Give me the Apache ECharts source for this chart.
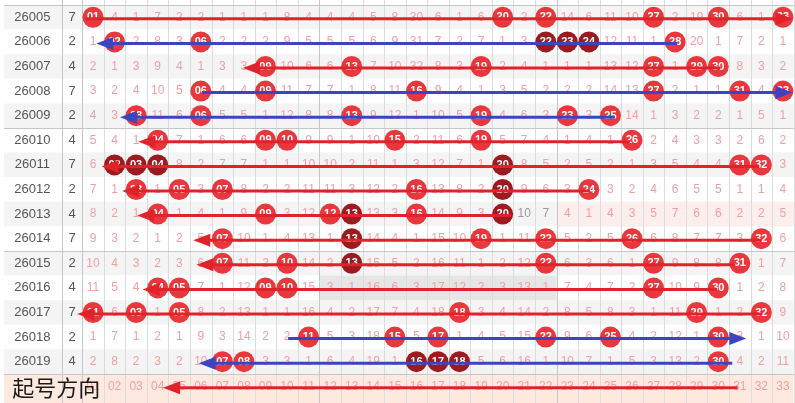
<!DOCTYPE html>
<html><head><meta charset="utf-8">
<script src="https://cdn.jsdelivr.net/npm/echarts@6/dist/echarts.min.js"></script>
<style>html,body{margin:0;padding:0;background:#fff}#c{width:795px;height:403px}</style>
</head><body><div id="c"></div>
<script>
// ---------------- data ----------------
const periods = ['26005','26006','26007','26008','26009','26010','26011','26012','26013','26014','26015','26016','26017','26018','26019'];
const sideValues = [7,2,4,7,2,4,7,2,4,7,2,4,7,2,4];
const numberLabels = ['01','02','03','04','05','06','07','08','09','10','11','12','13','14','15','16','17','18','19','20','21','22','23','24','25','26','27','28','29','30','31','32','33'];
const footerTitle = '起号方向';

// drawn numbers per period
const drawn = [
  [1,20,22,27,30,33],
  [2,6,22,23,24,28],
  [9,13,19,27,29,30],
  [6,9,16,27,31,33],
  [3,6,13,19,23,25],
  [4,9,10,15,19,26],
  [2,3,4,20,31,32],
  [3,5,7,16,20,24],
  [4,9,12,13,16,20],
  [7,13,19,22,26,32],
  [7,10,13,22,27,31],
  [4,5,9,10,27,30],
  [1,3,5,18,29,32],
  [11,15,17,22,25,30],
  [7,8,16,17,18,30]
];
// drawn numbers shown in dark red
const darkDrawn = [
  [],[22,23,24],[],[],[],[],[2,3,4,20],[20],[13,20],[13],[13],[],[],[],[16,17,18]
];
// previous period 26004 (only the lower edge of its balls is visible)
const prevDrawn = [3,18,32];
const prevDark = [7,8,9];

// omission counts (null = drawn)
const N = null;
const omission = [
  [N,4,1,7,2,2,1,1,1,8,4,4,4,5,8,30,6,1,6,N,2,N,14,6,11,10,N,2,19,N,6,1,N],
  [1,N,2,8,3,N,2,2,2,9,5,5,5,6,9,31,7,2,7,1,3,N,N,N,12,11,1,N,20,1,7,2,1],
  [2,1,3,9,4,1,3,3,N,10,6,6,N,7,10,32,8,3,N,2,4,1,1,1,13,12,N,1,N,N,8,3,2],
  [3,2,4,10,5,N,4,4,N,11,7,7,1,8,11,N,9,4,1,3,5,2,2,2,14,13,N,2,1,1,N,4,N],
  [4,3,N,11,6,N,5,5,1,12,8,8,N,9,12,1,10,5,N,4,6,3,N,3,N,14,1,3,2,2,1,5,1],
  [5,4,1,N,7,1,6,6,N,N,9,9,1,10,N,2,11,6,N,5,7,4,1,4,1,N,2,4,3,3,2,6,2],
  [6,N,N,N,8,2,7,7,1,1,10,10,2,11,1,3,12,7,1,N,8,5,2,5,2,1,3,5,4,4,N,N,3],
  [7,1,N,1,N,3,N,8,2,2,11,11,3,12,2,N,13,8,2,N,9,6,3,N,3,2,4,6,5,5,1,1,4],
  [8,2,1,N,1,4,1,9,N,3,12,N,N,13,3,N,14,9,3,N,10,7,4,1,4,3,5,7,6,6,2,2,5],
  [9,3,2,1,2,5,N,10,1,4,13,1,N,14,4,1,15,10,N,1,11,N,5,2,5,N,6,8,7,7,3,N,6],
  [10,4,3,2,3,6,N,11,2,N,14,2,N,15,5,2,16,11,1,2,12,N,6,3,6,1,N,9,8,8,N,1,7],
  [11,5,4,N,N,7,1,12,N,N,15,3,1,16,6,3,17,12,2,3,13,1,7,4,7,2,N,10,9,N,1,2,8],
  [N,6,N,1,N,8,2,13,1,1,16,4,2,17,7,4,18,N,3,4,14,2,8,5,8,3,1,11,N,1,2,N,9],
  [1,7,1,2,1,9,3,14,2,2,N,5,3,18,N,5,N,1,4,5,15,N,9,6,N,4,2,12,1,N,3,1,10],
  [2,8,2,3,2,10,N,N,3,3,1,6,4,19,1,N,N,N,5,6,16,1,10,7,1,5,3,13,2,N,4,2,11]
];

// direction arrows: [period, from column, to column, colour]
const arrows = [
  ['26005', 0.65, 33.45, 'red'],
  ['26006', 28.1, 1.15, 'blue'],
  ['26007', 30.1, 7.95, 'red'],
  ['26008', 6.05, 33.45, 'blue'],
  ['26009', 25.2, 2.25, 'blue'],
  ['26010', 25.9, 3.1, 'red'],
  ['26011', 31.9, 1.4, 'red'],
  ['26012', 24.05, 2.35, 'red'],
  ['26013', 20.4, 3.05, 'red'],
  ['26014', 32.0, 5.65, 'red'],
  ['26015', 30.8, 5.8, 'red'],
  ['26016', 29.95, 3.3, 'red'],
  ['26017', 32.05, 0.27, 'red'],
  ['26018', 10.05, 31.3, 'blue'],
  ['26019', 30.65, 5.9, 'blue'],
  ['footer', 30.9, 4.25, 'red']
];

// highlighted cell ranges: [period, first column, last column, kind]
const highlights = [
  ['26013', 23, 33, 'pink'],
  ['26016', 12, 22, 'gray']
];
// omission cells shown in gray text: [period, column]
const grayCells = [['26013', 21], ['26013', 22]];

// ---------------- layout / style ----------------
const FOOT = periods.length;           // footer row index
const LEFT = -3.13, RIGHT = 33.5;      // table edges (column units)
const X_LABEL = -1.81, X_SIDE = 0.03, X_DIV = -0.44;
const RED = '#e8383e', DARK = '#9c1b20', PINKTXT = '#f0a0a5', GRAYTXT = '#9a9a9a';
const LINE_COL = {red:'#e0222b', blue:'#3c44c2'};
const FONT = '"Liberation Sans", Arial, sans-serif';
const rowOf = p => p === 'footer' ? FOOT : periods.indexOf(p);

function txt(p, text, font, fill, align) {
  return {type:'text', x:p[0], y:p[1], style:{text:String(text), font, fill,
    align: align || 'center', verticalAlign:'middle', textAlign: align || 'center', textVerticalAlign:'middle'}};
}
function rectOf(api, x1, y1, x2, y2, fill) {
  const a = api.coord([x1, y1]), b = api.coord([x2, y2]);
  return {type:'rect', shape:{x:a[0], y:a[1], width:b[0]-a[0], height:b[1]-a[1]}, style:{fill}};
}

// series data
const bgRows = [];
for (let r = -1; r <= FOOT; r++) bgRows.push([r]);
const vLines = [X_DIV];
for (let c = 0; c <= 33; c++) vLines.push(c + 0.5);
const hLines = [-0.5, 4.5, 9.5, 14.5];

const isGray = (r, c) => grayCells.some(g => rowOf(g[0]) === r && g[1] === c);
const cellTexts = [];
omission.forEach((row, r) => row.forEach((v, i) => { if (v !== null) cellTexts.push([i + 1, r, v, isGray(r, i + 1) ? 1 : 0]); }));
numberLabels.forEach((l, i) => cellTexts.push([i + 1, FOOT, l, 0]));

const redBalls = [], darkBalls = [];
drawn.forEach((row, r) => row.forEach(n => {
  const item = [n, r, numberLabels[n - 1]];
  (darkDrawn[r].indexOf(n) >= 0 ? darkBalls : redBalls).push(item);
}));
prevDrawn.forEach(n => redBalls.push([n, -1, numberLabels[n - 1]]));
prevDark.forEach(n => darkBalls.push([n, -1, numberLabels[n - 1]]));

const labelRows = periods.map((p, r) => [r, p, sideValues[r]]);
const arrowData = arrows.map(a => [rowOf(a[0]), a[1], a[2], a[3] === 'red' ? 0 : 1]);
const hlData = highlights.map(h => [rowOf(h[0]), h[1], h[2], h[3] === 'pink' ? 0 : 1]);

const ballLabel = {show:true, position:'inside', formatter: p => p.data[2], color:'#fff',
  fontSize:11, fontWeight:'bold', fontFamily:'"Liberation Sans", Arial, sans-serif'};

const option = {
  animation: false,
  grid: {left:0, right:0, top:0, bottom:0},
  xAxis: {type:'value', min:-3.3135, max:33.56, show:false},
  yAxis: {type:'value', min:-0.703, max:15.68, inverse:true, show:false},
  series: [
    { type:'custom', data:bgRows, silent:true, z:1,
      renderItem(params, api) {
        const r = api.value(0);
        const fill = r === FOOT ? '#fde9e0' : (r >= 0 && r % 2 === 0 ? '#f4f4f4' : '#ffffff');
        return rectOf(api, LEFT, r - 0.5, RIGHT, r === FOOT ? 15.7 : r + 0.5, fill);
      }},
    { type:'custom', data:hlData, silent:true, z:2,
      renderItem(params, api) {
        const r = api.value(0);
        return rectOf(api, api.value(1) - 0.5, r - 0.5, api.value(2) + 0.5, r + 0.5,
          api.value(3) === 0 ? '#fdeeee' : '#e6e6e6');
      }},
    { type:'custom', data:vLines.map(v => [v]), silent:true, z:3,
      renderItem(params, api) {
        const x = api.value(0);
        const a = api.coord([x, -1.5]), b = api.coord([x, 15.7]);
        const strong = (x === X_DIV || x === 0.5 || x === 11.5 || x === 22.5);
        return {type:'line', shape:{x1:Math.round(a[0]) + 0.5, y1:a[1], x2:Math.round(a[0]) + 0.5, y2:b[1]},
          style:{stroke: strong ? '#c6c6c6' : '#dcdcdc', lineWidth:1}};
      }},
    { type:'custom', data:hLines.map(v => [v]), silent:true, z:3,
      renderItem(params, api) {
        const y = api.value(0);
        const a = api.coord([LEFT, y]), b = api.coord([RIGHT, y]);
        return {type:'line', shape:{x1:a[0], y1:Math.round(a[1]) + 0.5, x2:b[0], y2:Math.round(a[1]) + 0.5},
          style:{stroke:'#c6c6c6', lineWidth:1}};
      }},
    { type:'custom', data:cellTexts, silent:true, z:4,
      renderItem(params, api) {
        const p = api.coord([api.value(0), api.value(1)]);
        const d = cellTexts[params.dataIndex];
        return txt(p, d[2], '12px ' + FONT, d[3] ? GRAYTXT : PINKTXT);
      }},
    { type:'custom', data:labelRows, silent:true, z:4,
      renderItem(params, api) {
        const r = api.value(0);
        const d = labelRows[params.dataIndex];
        return {type:'group', children:[
          txt(api.coord([X_LABEL, r]), d[1], '13px ' + FONT, '#555'),
          txt(api.coord([X_SIDE, r]), d[2], '13px ' + FONT, '#555')
        ]};
      }},
    { type:'scatter', data:redBalls, symbol:'circle', symbolSize:21, z:5,
      itemStyle:{color:RED, opacity:1}, label:ballLabel },
    { type:'scatter', data:darkBalls, symbol:'circle', symbolSize:21, z:5,
      itemStyle:{color:DARK, opacity:1}, label:ballLabel },
    { type:'custom', data:arrowData, silent:true, z:6,
      renderItem(params, api) {
        const r = api.value(0), k = api.value(3);
        const col = k === 0 ? LINE_COL.red : LINE_COL.blue;
        const p1 = api.coord([api.value(1), r]), p2 = api.coord([api.value(2), r]);
        const dy = 1.5;
        const dir = p2[0] > p1[0] ? 1 : -1;
        const L = 17, W = 6.5;
        const bx = p2[0] - dir * L, y = p2[1] + dy;
        return {type:'group', children:[
          {type:'line', shape:{x1:p1[0], y1:p1[1] + dy, x2:bx + dir * 2, y2:y}, style:{stroke:col, lineWidth:3}},
          {type:'polygon', shape:{points:[[p2[0], y], [bx, y - W], [bx, y + W]]}, style:{fill:col}}
        ]};
      }},
    { type:'custom', data:[[FOOT]], silent:true, z:7,
      renderItem(params, api) {
        const p = api.coord([-2.74, api.value(0) + 0.07]);
        return txt(p, footerTitle, '22px "Noto Sans CJK SC", sans-serif', '#1a1a1a', 'left');
      }}
  ]
};
const chart = echarts.init(document.getElementById('c'));
chart.setOption(option);
</script>
</body></html>
